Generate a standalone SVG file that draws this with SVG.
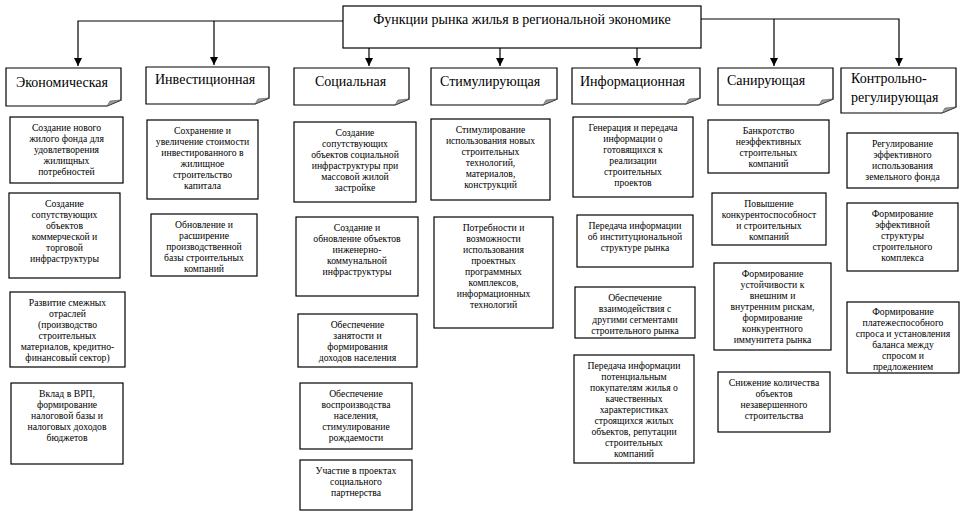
<svg xmlns="http://www.w3.org/2000/svg" width="962" height="516" viewBox="0 0 962 516">
<style>
.bg{fill:#ffffff}
.box{fill:#ffffff;stroke:#000000;stroke-width:1.2}
.hdr{fill:#ffffff;stroke:#000000;stroke-width:1.2}
.fold{fill:#9a9a9a;stroke:#555555;stroke-width:0.6}
.ln{fill:none;stroke:#000000;stroke-width:1.2}
.t{font-family:"Liberation Serif","Times New Roman",serif;font-size:9.7px;fill:#000000;text-anchor:middle}
.h{font-family:"Liberation Serif","Times New Roman",serif;font-size:14px;fill:#000000}
.title{font-family:"Liberation Serif","Times New Roman",serif;font-size:14px;fill:#000000;text-anchor:middle}
</style>
<defs>
<marker id="arr" markerUnits="userSpaceOnUse" markerWidth="8" markerHeight="9" refX="8" refY="4" orient="auto">
<path d="M0,0 L8,4 L0,8 Z" fill="#000000"/>
</marker>
</defs>
<rect class="bg" x="0" y="0" width="962" height="516"/>

<g id="connectors">
<path class="ln" d="M343,21 H78 V66" marker-end="url(#arr)"/>
<path class="ln" d="M214,21 V65" marker-end="url(#arr)"/>
<path class="ln" d="M701,19 H899 V66" marker-end="url(#arr)"/>
<path class="ln" d="M774,19 V66" marker-end="url(#arr)"/>
<path class="ln" d="M369,48 V66" marker-end="url(#arr)"/>
<path class="ln" d="M500,48 V66" marker-end="url(#arr)"/>
<path class="ln" d="M637,48 V66" marker-end="url(#arr)"/>
</g>

<g id="title">
<rect class="box" x="343" y="6" width="358" height="42"/>
<text class="title" x="522" y="24">Функции рынка жилья в региональной экономике</text>
</g>

<g id="h-econ">
<path class="hdr" d="M6,68 H121 V100 L107,106 H6 Z"/>
<path class="fold" d="M121,100 L107,106 L110,101 Z"/>
<text class="h" x="16" y="87">Экономическая</text>
</g>
<g id="h-invest">
<path class="hdr" d="M146,67 H269 V98 L255,104 H146 Z"/>
<path class="fold" d="M269,98 L255,104 L258,99 Z"/>
<text class="h" x="155" y="84">Инвестиционная</text>
</g>
<g id="h-social">
<path class="hdr" d="M294,68 H409 V99 L395,105 H294 Z"/>
<path class="fold" d="M409,99 L395,105 L398,100 Z"/>
<text class="h" x="315" y="86">Социальная</text>
</g>
<g id="h-stim">
<path class="hdr" d="M431,68 H557 V99 L543,105 H431 Z"/>
<path class="fold" d="M557,99 L543,105 L546,100 Z"/>
<text class="h" x="440" y="86">Стимулирующая</text>
</g>
<g id="h-inform">
<path class="hdr" d="M572,68 H700 V98 L686,104 H572 Z"/>
<path class="fold" d="M700,98 L686,104 L689,99 Z"/>
<text class="h" x="580" y="86">Информационная</text>
</g>
<g id="h-sanir">
<path class="hdr" d="M718,68 H833 V99 L819,105 H718 Z"/>
<path class="fold" d="M833,99 L819,105 L822,100 Z"/>
<text class="h" x="727" y="85">Санирующая</text>
</g>
<g id="h-control">
<path class="hdr" d="M841,68 H956 V107 L942,113 H841 Z"/>
<path class="fold" d="M956,107 L942,113 L945,108 Z"/>
<text class="h" x="851" y="83">Контрольно-</text>
<text class="h" x="851" y="102">регулирующая</text>
</g>

<g id="a1">
<rect class="box" x="10" y="117" width="113" height="66"/>
<text class="t" y="130.5"><tspan x="66.5">Создание нового</tspan><tspan x="66.5" dy="11.1">жилого фонда для</tspan><tspan x="66.5" dy="11.1">удовлетворения</tspan><tspan x="66.5" dy="11.1">жилищных</tspan><tspan x="66.5" dy="11.1">потребностей</tspan></text>
</g>
<g id="a2">
<rect class="box" x="9" y="193" width="111" height="85"/>
<text class="t" y="206.5"><tspan x="64.5">Создание</tspan><tspan x="64.5" dy="11.1">сопутствующих</tspan><tspan x="64.5" dy="11.1">объектов</tspan><tspan x="64.5" dy="11.1">коммерческой и</tspan><tspan x="64.5" dy="11.1">торговой</tspan><tspan x="64.5" dy="11.1">инфраструктуры</tspan></text>
</g>
<g id="a3">
<rect class="box" x="10" y="292" width="115" height="75"/>
<text class="t" y="305.5"><tspan x="67.5">Развитие смежных</tspan><tspan x="67.5" dy="11.1">отраслей</tspan><tspan x="67.5" dy="11.1">(производство</tspan><tspan x="67.5" dy="11.1">строительных</tspan><tspan x="67.5" dy="11.1">материалов, кредитно-</tspan><tspan x="67.5" dy="11.1">финансовый сектор)</tspan></text>
</g>
<g id="a4">
<rect class="box" x="11" y="383" width="112" height="81"/>
<text class="t" y="396.5"><tspan x="67">Вклад в ВРП,</tspan><tspan x="67" dy="11.1">формирование</tspan><tspan x="67" dy="11.1">налоговой базы и</tspan><tspan x="67" dy="11.1">налоговых доходов</tspan><tspan x="67" dy="11.1">бюджетов</tspan></text>
</g>

<g id="b1">
<rect class="box" x="147" y="120" width="111" height="79"/>
<text class="t" y="133.5"><tspan x="202.5">Сохранение и</tspan><tspan x="202.5" dy="11.1">увеличение стоимости</tspan><tspan x="202.5" dy="11.1">инвестированного в</tspan><tspan x="202.5" dy="11.1">жилищное</tspan><tspan x="202.5" dy="11.1">строительство</tspan><tspan x="202.5" dy="11.1">капитала</tspan></text>
</g>
<g id="b2">
<rect class="box" x="151" y="214" width="106" height="62"/>
<text class="t" y="227.5"><tspan x="204">Обновление и</tspan><tspan x="204" dy="11.1">расширение</tspan><tspan x="204" dy="11.1">производственной</tspan><tspan x="204" dy="11.1">базы строительных</tspan><tspan x="204" dy="11.1">компаний</tspan></text>
</g>

<g id="c1">
<rect class="box" x="294" y="122" width="122" height="80"/>
<text class="t" y="135.5"><tspan x="355">Создание</tspan><tspan x="355" dy="11.1">сопутствующих</tspan><tspan x="355" dy="11.1">объектов социальной</tspan><tspan x="355" dy="11.1">инфраструктуры при</tspan><tspan x="355" dy="11.1">массовой жилой</tspan><tspan x="355" dy="11.1">застройке</tspan></text>
</g>
<g id="c2">
<rect class="box" x="296" y="217" width="122" height="79"/>
<text class="t" y="230.5"><tspan x="357">Создание и</tspan><tspan x="357" dy="11.1">обновление объектов</tspan><tspan x="357" dy="11.1">инженерно-</tspan><tspan x="357" dy="11.1">коммунальной</tspan><tspan x="357" dy="11.1">инфраструктуры</tspan></text>
</g>
<g id="c3">
<rect class="box" x="298" y="314" width="119" height="53"/>
<text class="t" y="327.5"><tspan x="357.5">Обеспечение</tspan><tspan x="357.5" dy="11.1">занятости и</tspan><tspan x="357.5" dy="11.1">формирования</tspan><tspan x="357.5" dy="11.1">доходов населения</tspan></text>
</g>
<g id="c4">
<rect class="box" x="300" y="383" width="112" height="66"/>
<text class="t" y="396.5"><tspan x="356">Обеспечение</tspan><tspan x="356" dy="11.1">воспроизводства</tspan><tspan x="356" dy="11.1">населения,</tspan><tspan x="356" dy="11.1">стимулирование</tspan><tspan x="356" dy="11.1">рождаемости</tspan></text>
</g>
<g id="c5">
<rect class="box" x="300" y="460" width="112" height="50"/>
<text class="t" y="473.5"><tspan x="356">Участие в проектах</tspan><tspan x="356" dy="11.1">социального</tspan><tspan x="356" dy="11.1">партнерства</tspan></text>
</g>

<g id="d1">
<rect class="box" x="431" y="119" width="119" height="81"/>
<text class="t" y="132.5"><tspan x="490.5">Стимулирование</tspan><tspan x="490.5" dy="11.1">использования новых</tspan><tspan x="490.5" dy="11.1">строительных</tspan><tspan x="490.5" dy="11.1">технологий,</tspan><tspan x="490.5" dy="11.1">материалов,</tspan><tspan x="490.5" dy="11.1">конструкций</tspan></text>
</g>
<g id="d2">
<rect class="box" x="434" y="217" width="119" height="111"/>
<text class="t" y="230.5"><tspan x="493.5">Потребности и</tspan><tspan x="493.5" dy="11.1">возможности</tspan><tspan x="493.5" dy="11.1">использования</tspan><tspan x="493.5" dy="11.1">проектных</tspan><tspan x="493.5" dy="11.1">программных</tspan><tspan x="493.5" dy="11.1">комплексов,</tspan><tspan x="493.5" dy="11.1">информационных</tspan><tspan x="493.5" dy="11.1">технологий</tspan></text>
</g>

<g id="e1">
<rect class="box" x="573" y="117" width="120" height="80"/>
<text class="t" y="130.5"><tspan x="633">Генерация и передача</tspan><tspan x="633" dy="11.1">информации о</tspan><tspan x="633" dy="11.1">готовящихся к</tspan><tspan x="633" dy="11.1">реализации</tspan><tspan x="633" dy="11.1">строительных</tspan><tspan x="633" dy="11.1">проектов</tspan></text>
</g>
<g id="e2">
<rect class="box" x="577" y="215" width="116" height="52"/>
<text class="t" y="228.5"><tspan x="635">Передача информации</tspan><tspan x="635" dy="11.1">об институциональной</tspan><tspan x="635" dy="11.1">структуре рынка</tspan></text>
</g>
<g id="e3">
<rect class="box" x="575" y="287" width="120" height="51"/>
<text class="t" y="300.5"><tspan x="635">Обеспечение</tspan><tspan x="635" dy="11.1">взаимодействия с</tspan><tspan x="635" dy="11.1">другими сегментами</tspan><tspan x="635" dy="11.1">строительного рынка</tspan></text>
</g>
<g id="e4">
<rect class="box" x="574" y="355" width="120" height="108"/>
<text class="t" y="368.5"><tspan x="634">Передача информации</tspan><tspan x="634" dy="11.1">потенциальным</tspan><tspan x="634" dy="11.1">покупателям жилья о</tspan><tspan x="634" dy="11.1">качественных</tspan><tspan x="634" dy="11.1">характеристиках</tspan><tspan x="634" dy="11.1">строящихся жилых</tspan><tspan x="634" dy="11.1">объектов, репутации</tspan><tspan x="634" dy="11.1">строительных</tspan><tspan x="634" dy="11.1">компаний</tspan></text>
</g>

<g id="f1">
<rect class="box" x="708" y="120" width="121" height="53"/>
<text class="t" y="133.5"><tspan x="768.5">Банкротство</tspan><tspan x="768.5" dy="11.1">неэффективных</tspan><tspan x="768.5" dy="11.1">строительных</tspan><tspan x="768.5" dy="11.1">компаний</tspan></text>
</g>
<g id="f2">
<rect class="box" x="712" y="193" width="114" height="52"/>
<text class="t" y="206.5"><tspan x="769">Повышение</tspan><tspan x="769" dy="11.1">конкурентоспособност</tspan><tspan x="769" dy="11.1">и строительных</tspan><tspan x="769" dy="11.1">компаний</tspan></text>
</g>
<g id="f3">
<rect class="box" x="714" y="263" width="117" height="87"/>
<text class="t" y="276.5"><tspan x="772.5">Формирование</tspan><tspan x="772.5" dy="11.1">устойчивости к</tspan><tspan x="772.5" dy="11.1">внешним и</tspan><tspan x="772.5" dy="11.1">внутренним рискам,</tspan><tspan x="772.5" dy="11.1">формирование</tspan><tspan x="772.5" dy="11.1">конкурентного</tspan><tspan x="772.5" dy="11.1">иммунитета рынка</tspan></text>
</g>
<g id="f4">
<rect class="box" x="718" y="372" width="112" height="60"/>
<text class="t" y="385.5"><tspan x="774">Снижение количества</tspan><tspan x="774" dy="11.1">объектов</tspan><tspan x="774" dy="11.1">незавершенного</tspan><tspan x="774" dy="11.1">строительства</tspan></text>
</g>

<g id="g1">
<rect class="box" x="847" y="133" width="111" height="55"/>
<text class="t" y="146.5"><tspan x="902.5">Регулирование</tspan><tspan x="902.5" dy="11.1">эффективного</tspan><tspan x="902.5" dy="11.1">использования</tspan><tspan x="902.5" dy="11.1">земельного фонда</tspan></text>
</g>
<g id="g2">
<rect class="box" x="847" y="203" width="111" height="68"/>
<text class="t" y="216.5"><tspan x="902.5">Формирование</tspan><tspan x="902.5" dy="11.1">эффективной</tspan><tspan x="902.5" dy="11.1">структуры</tspan><tspan x="902.5" dy="11.1">строительного</tspan><tspan x="902.5" dy="11.1">комплекса</tspan></text>
</g>
<g id="g3">
<rect class="box" x="847" y="302" width="112" height="71"/>
<text class="t" y="315"><tspan x="903">Формирование</tspan><tspan x="903" dy="11">платежеспособного</tspan><tspan x="903" dy="11">спроса и установления</tspan><tspan x="903" dy="11">баланса между</tspan><tspan x="903" dy="11">спросом и</tspan><tspan x="903" dy="11">предложением</tspan></text>
</g>
</svg>
